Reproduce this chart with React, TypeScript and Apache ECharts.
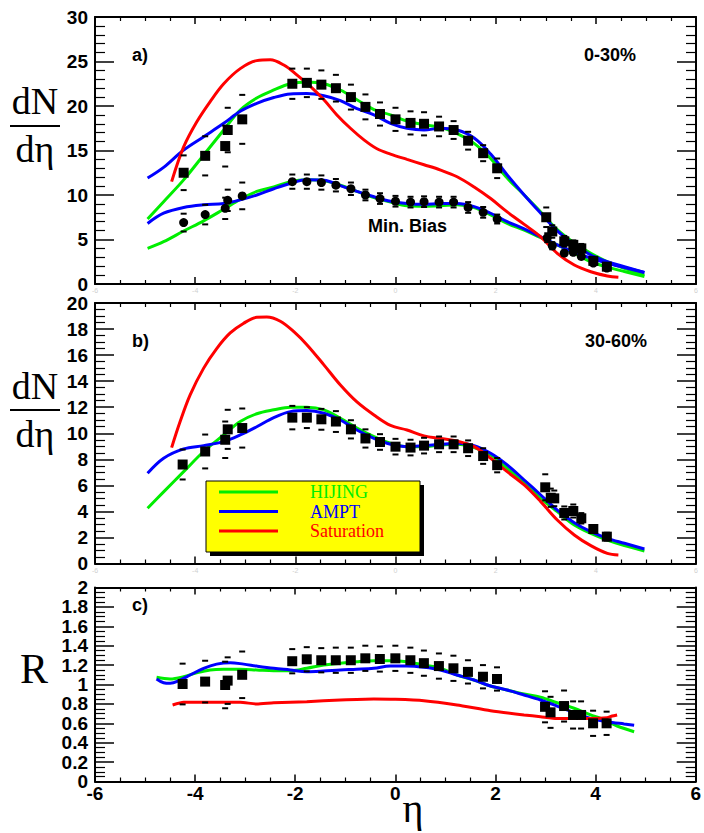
import React, { useEffect, useRef } from "react";
import * as echarts from "echarts";

// ---------- data ----------
const etaModel = [-4.95, -4.63, -4.23, -3.83, -3.43, -3.1, -2.77, -2.43, -2.1, -1.77, -1.43, -1.1, -0.77, -0.43, -0.1, 0.23, 0.57, 0.9, 1.23, 1.57, 1.9, 2.23, 2.57, 2.9, 3.23, 3.57, 3.9, 4.23, 4.57, 4.97];

// panel a (0-30% and Min. Bias)
const aHijingCentral = [7.3, 9.25, 11.7, 14.5, 17.3, 19.55, 20.9, 21.8, 22.5, 22.7, 22.5, 21.8, 20.7, 19.6, 19.0, 18.3, 17.9, 17.6, 16.9, 15.8, 14.1, 11.9, 10.0, 8.1, 6.1, 4.6, 3.45, 2.5, 1.76, 1.0];
const aAmptCentral = [11.9, 13.1, 15.05, 16.55, 18.05, 19.4, 20.3, 20.95, 21.35, 21.4, 21.15, 20.6, 19.7, 19.0, 18.05, 17.5, 17.3, 17.5, 17.3, 16.4, 14.6, 12.25, 10.0, 7.95, 5.96, 4.4, 3.26, 2.5, 1.95, 1.3];
const aHijingMinBias = [4.0, 4.75, 5.95, 7.1, 8.4, 9.5, 10.4, 10.9, 11.5, 11.7, 11.6, 11.1, 10.4, 9.7, 9.2, 8.8, 8.75, 8.8, 8.9, 8.6, 7.75, 6.8, 6.05, 5.2, 4.4, 3.45, 2.5, 1.9, 1.4, 0.85];
const aAmptMinBias = [6.8, 7.95, 8.6, 8.9, 9.05, 9.45, 10.0, 10.7, 11.3, 11.7, 11.65, 11.05, 10.4, 9.8, 9.3, 9.05, 8.95, 9.05, 9.05, 8.7, 7.95, 7.0, 6.2, 5.3, 4.4, 3.56, 2.9, 2.33, 1.85, 1.3];
const aSatEta = [-4.47, -4.23, -3.97, -3.7, -3.43, -3.1, -2.77, -2.5, -2.23, -1.97, -1.7, -1.43, -1.17, -0.9, -0.63, -0.37, -0.1, 0.23, 0.57, 0.9, 1.23, 1.57, 1.9, 2.23, 2.57, 2.9, 3.23, 3.57, 3.9, 4.23, 4.45];
const aSatCentral = [11.5, 15.4, 18.2, 20.5, 22.5, 24.2, 25.1, 25.2, 24.6, 23.5, 22.2, 20.7, 19.0, 17.5, 16.2, 15.2, 14.6, 14.0, 13.4, 12.8, 12.05, 10.9, 9.6, 8.1, 6.7, 5.3, 3.45, 2.13, 1.38, 0.9, 0.75];

const aSqEta = [-4.23, -3.8, -3.4, -3.35, -3.06, -2.06, -1.77, -1.48, -1.19, -0.89, -0.6, -0.31, 0.0, 0.3, 0.57, 0.87, 1.16, 1.45, 1.75, 2.03, 3.01, 3.13, 3.37, 3.55, 3.71, 3.95, 4.22];
const aSqVal = [12.5, 14.4, 15.5, 17.3, 18.5, 22.5, 22.6, 22.4, 22.0, 21.0, 19.9, 19.1, 18.5, 18.1, 18.0, 17.7, 17.3, 16.1, 14.7, 13.0, 7.5, 5.9, 4.8, 4.4, 4.0, 2.6, 1.95];
const aSqErr = [1.95, 2.2, 2.3, 2.5, 2.75, 1.7, 1.6, 1.6, 1.5, 1.4, 1.4, 1.3, 1.3, 1.3, 1.3, 1.1, 1.0, 1.0, 0.9, 1.1, 1.1, 0.7, 0.6, 0.5, 0.5, 0.4, 0.3];
const aCiEta = [-4.23, -3.8, -3.4, -3.35, -3.06, -2.06, -1.77, -1.48, -1.19, -0.89, -0.6, -0.31, 0.0, 0.3, 0.57, 0.87, 1.16, 1.45, 1.75, 2.03, 3.03, 3.13, 3.37, 3.55, 3.71, 3.95, 4.22];
const aCiVal = [6.9, 7.8, 8.5, 9.4, 9.9, 11.5, 11.5, 11.4, 11.1, 10.7, 10.0, 9.6, 9.3, 9.2, 9.25, 9.2, 9.2, 8.6, 8.05, 7.3, 5.2, 4.3, 3.48, 3.56, 3.1, 2.35, 1.8];
const aCiErr = [1.0, 1.1, 1.2, 1.2, 1.5, 0.8, 0.8, 0.8, 0.7, 0.7, 0.6, 0.6, 0.6, 0.6, 0.6, 0.6, 0.6, 0.6, 0.6, 0.5, 0.5, 0.4, 0.3, 0.3, 0.3, 0.2, 0.2];

// panel b (30-60%)
const bHijing = [4.24, 5.5, 7.05, 8.6, 9.87, 10.9, 11.5, 11.8, 12.0, 12.0, 11.8, 11.15, 10.4, 9.74, 9.23, 8.97, 8.97, 9.1, 9.15, 8.9, 8.33, 7.3, 6.16, 5.0, 3.98, 2.96, 2.32, 1.8, 1.37, 0.96];
const bAmpt = [6.93, 8.08, 8.8, 9.05, 9.36, 9.87, 10.5, 11.2, 11.66, 11.74, 11.54, 11.02, 10.25, 9.6, 9.15, 8.97, 9.05, 9.15, 9.23, 9.05, 8.46, 7.57, 6.41, 5.26, 4.1, 3.13, 2.44, 1.93, 1.55, 1.11];
const bSatEta = [-4.47, -4.3, -4.1, -3.83, -3.57, -3.3, -3.03, -2.77, -2.57, -2.3, -2.03, -1.77, -1.43, -1.1, -0.77, -0.43, -0.1, 0.23, 0.57, 0.9, 1.23, 1.57, 1.9, 2.23, 2.57, 2.9, 3.23, 3.57, 3.9, 4.23, 4.45];
const bSat = [8.9, 10.9, 12.95, 15.0, 16.5, 17.7, 18.45, 18.9, 18.93, 18.6, 17.8, 16.8, 15.25, 13.7, 12.4, 11.4, 10.6, 10.25, 9.8, 9.6, 9.4, 8.97, 8.08, 7.05, 6.03, 4.75, 3.34, 2.19, 1.37, 0.78, 0.65];
const bSqEta = [-4.25, -3.8, -3.4, -3.35, -3.06, -2.06, -1.77, -1.48, -1.19, -0.89, -0.6, -0.31, 0.0, 0.3, 0.57, 0.87, 1.16, 1.45, 1.75, 2.03, 2.99, 3.1, 3.17, 3.37, 3.55, 3.71, 3.95, 4.22];
const bSqVal = [7.6, 8.6, 9.5, 10.3, 10.4, 11.2, 11.2, 11.07, 10.9, 10.3, 9.6, 9.33, 8.97, 8.9, 9.05, 9.15, 9.15, 8.85, 8.25, 7.55, 5.85, 5.05, 5.0, 3.88, 4.03, 3.47, 2.65, 2.06];
const bSqErr = [1.15, 1.3, 1.4, 1.5, 1.5, 0.9, 0.8, 0.8, 0.8, 0.7, 0.7, 0.6, 0.6, 0.6, 0.6, 0.6, 0.6, 0.6, 0.6, 0.55, 1.0, 0.7, 0.6, 0.5, 0.5, 0.4, 0.3, 0.3];

// panel c (ratio R)
const cHijingEta = [-4.77, -4.5, -4.23, -3.97, -3.7, -3.43, -3.1, -2.77, -2.43, -2.1, -1.77, -1.43, -1.1, -0.77, -0.43, -0.1, 0.23, 0.57, 0.9, 1.23, 1.57, 1.9, 2.23, 2.57, 2.9, 3.23, 3.57, 3.9, 4.1, 4.43, 4.77];
const cHijing = [1.074, 1.057, 1.08, 1.12, 1.15, 1.157, 1.157, 1.15, 1.142, 1.142, 1.167, 1.2, 1.218, 1.235, 1.245, 1.245, 1.235, 1.2, 1.167, 1.098, 1.046, 0.985, 0.943, 0.902, 0.868, 0.812, 0.755, 0.686, 0.65, 0.572, 0.513];
const cAmptEta = [-4.77, -4.63, -4.5, -4.3, -4.1, -3.83, -3.57, -3.3, -3.03, -2.77, -2.43, -2.1, -1.77, -1.43, -1.1, -0.77, -0.43, -0.1, 0.23, 0.57, 0.9, 1.23, 1.57, 1.9, 2.23, 2.57, 2.9, 3.23, 3.57, 3.9, 4.23, 4.57, 4.77];
const cAmpt = [1.057, 1.018, 1.012, 1.046, 1.098, 1.167, 1.21, 1.225, 1.21, 1.19, 1.167, 1.15, 1.132, 1.139, 1.15, 1.157, 1.167, 1.19, 1.19, 1.177, 1.15, 1.098, 1.046, 0.985, 0.943, 0.892, 0.84, 0.778, 0.71, 0.65, 0.617, 0.593, 0.58];
const cSatEta = [-4.45, -4.23, -3.77, -3.1, -2.77, -2.43, -1.77, -1.1, -0.43, 0.0, 0.57, 1.23, 1.9, 2.57, 2.9, 3.23, 3.57, 3.9, 4.23, 4.33, 4.43];
const cSat = [0.789, 0.816, 0.816, 0.816, 0.8, 0.812, 0.823, 0.84, 0.85, 0.847, 0.833, 0.789, 0.73, 0.686, 0.668, 0.65, 0.65, 0.65, 0.658, 0.675, 0.686];
const cSqEta = [-4.25, -3.8, -3.4, -3.35, -3.06, -2.06, -1.77, -1.48, -1.19, -0.89, -0.6, -0.31, 0.0, 0.3, 0.57, 0.87, 1.16, 1.45, 1.75, 2.03, 2.99, 3.1, 3.37, 3.55, 3.71, 3.95, 4.22];
const cSqVal = [1.005, 1.03, 0.995, 1.04, 1.1, 1.24, 1.26, 1.25, 1.25, 1.25, 1.27, 1.263, 1.27, 1.25, 1.22, 1.19, 1.167, 1.13, 1.08, 1.057, 0.77, 0.713, 0.778, 0.686, 0.686, 0.6, 0.6];
const cSqErr = [0.21, 0.215, 0.24, 0.24, 0.24, 0.125, 0.125, 0.125, 0.13, 0.13, 0.13, 0.13, 0.13, 0.13, 0.13, 0.13, 0.13, 0.12, 0.12, 0.12, 0.16, 0.16, 0.16, 0.14, 0.14, 0.13, 0.12];

const legendNames = ["HIJING", "AMPT", "Saturation"];

// ---------- styling ----------
const GREEN = "#00ee00";
const BLUE = "#0000ff";
const RED = "#ff0000";
const SANS = "'Liberation Sans', Arial, sans-serif";
const SERIF = "'Liberation Serif', 'Times New Roman', serif";

const GRIDS = [
  { left: 95, top: 17, width: 601, height: 267 },
  { left: 95, top: 303, width: 601, height: 260.5 },
  { left: 95, top: 587.5, width: 601, height: 194 },
];
const Y_RANGES = [
  { min: 0, max: 30, interval: 5, minor: 5 },
  { min: 0, max: 20, interval: 2, minor: 4 },
  { min: 0, max: 2, interval: 0.2, minor: 4 },
];

const zip = (xs: number[], ys: number[]) => xs.map((x, i) => [x, ys[i]]);
const zip3 = (xs: number[], ys: number[], es: number[]) => xs.map((x, i) => [x, ys[i], es[i]]);

function curve(k: number, data: number[][], color: string, smooth = 0.35) {
  return {
    type: "line",
    xAxisIndex: 2 * k,
    yAxisIndex: 2 * k,
    data,
    smooth,
    showSymbol: false,
    symbol: "none",
    lineStyle: { color, width: 3 },
    z: 3,
    silent: true,
  };
}

function markers(k: number, data: number[][], symbol: string, size: number) {
  return {
    type: "scatter",
    xAxisIndex: 2 * k,
    yAxisIndex: 2 * k,
    data,
    symbol,
    symbolSize: size,
    itemStyle: { color: "#000", opacity: 1 },
    z: 5,
    silent: true,
  };
}

function errDashes(k: number, data: number[][]) {
  return {
    type: "custom",
    xAxisIndex: 2 * k,
    yAxisIndex: 2 * k,
    data,
    encode: { x: 0, y: 1 },
    z: 4,
    silent: true,
    renderItem: (_p: any, api: any) => {
      const x = api.value(0);
      const y = api.value(1);
      const e = api.value(2);
      const hi = api.coord([x, y + e]);
      const lo = api.coord([x, y - e]);
      return {
        type: "group",
        children: [
          { type: "rect", shape: { x: hi[0] - 3, y: hi[1] - 1, width: 6, height: 2 }, style: { fill: "#000" } },
          { type: "rect", shape: { x: lo[0] - 3, y: lo[1] - 1, width: 6, height: 2 }, style: { fill: "#000" } },
        ],
      };
    },
  };
}

export default function App() {
  const ref = useRef<HTMLDivElement>(null);

  useEffect(() => {
    if (!ref.current) return;
    const chart = echarts.init(ref.current, null, { renderer: "svg" });

    const xAxes: any[] = [];
    const yAxes: any[] = [];
    GRIDS.forEach((_, k) => {
      const last = k === 2;
      ["bottom", "top"].forEach((pos) => {
        xAxes.push({
          type: "value",
          gridIndex: k,
          position: pos,
          min: -6,
          max: 6,
          interval: 2,
          axisLine: { show: true, onZero: false, lineStyle: { color: "#000", width: 2 } },
          axisTick: { show: true, inside: true, length: 7, lineStyle: { color: "#000", width: 1.5 } },
          minorTick: { show: true, splitNumber: 4, length: 4, lineStyle: { color: "#000", width: 1.2 } },
          splitLine: { show: false },
          axisLabel:
            pos === "bottom"
              ? last
                ? { show: true, margin: 2, color: "#000", fontFamily: SANS, fontWeight: "bold", fontSize: 19 }
                : { show: true, margin: 3, color: "#cfcfcf", fontFamily: SANS, fontSize: 7 }
              : { show: false },
        });
      });
      const r = Y_RANGES[k];
      ["left", "right"].forEach((pos) => {
        yAxes.push({
          type: "value",
          gridIndex: k,
          position: pos,
          min: r.min,
          max: r.max,
          interval: r.interval,
          axisLine: { show: true, onZero: false, lineStyle: { color: "#000", width: 2 } },
          axisTick: { show: true, inside: true, length: 19, lineStyle: { color: "#000", width: 1.5 } },
          minorTick: { show: true, splitNumber: r.minor, length: 10, lineStyle: { color: "#000", width: 1.2 } },
          splitLine: { show: false },
          axisLabel:
            pos === "left"
              ? { show: true, margin: 7, color: "#000", fontFamily: SANS, fontWeight: "bold", fontSize: 19 }
              : { show: false },
        });
      });
    });

    const series: any[] = [
      // panel a
      curve(0, zip(etaModel, aHijingCentral), GREEN),
      curve(0, zip(etaModel, aHijingMinBias), GREEN),
      curve(0, zip(etaModel, aAmptCentral), BLUE),
      curve(0, zip(etaModel, aAmptMinBias), BLUE),
      curve(0, zip(aSatEta, aSatCentral), RED),
      errDashes(0, zip3(aSqEta, aSqVal, aSqErr)),
      errDashes(0, zip3(aCiEta, aCiVal, aCiErr)),
      markers(0, zip(aSqEta, aSqVal), "rect", 10),
      markers(0, zip(aCiEta, aCiVal), "circle", 9),
      // panel b
      curve(1, zip(etaModel, bHijing), GREEN),
      curve(1, zip(etaModel, bAmpt), BLUE),
      curve(1, zip(bSatEta, bSat), RED),
      errDashes(1, zip3(bSqEta, bSqVal, bSqErr)),
      markers(1, zip(bSqEta, bSqVal), "rect", 10),
      // panel c
      curve(2, zip(cHijingEta, cHijing), GREEN),
      curve(2, zip(cAmptEta, cAmpt), BLUE),
      curve(2, zip(cSatEta, cSat), RED, 0.2),
      errDashes(2, zip3(cSqEta, cSqVal, cSqErr)),
      markers(2, zip(cSqEta, cSqVal), "rect", 10),
    ];

    const bold = (size: number) => `bold ${size}px ${SANS}`;
    const serif = (size: number) => `${size}px ${SERIF}`;
    const txt = (text: string, x: number, y: number, font: string, fill = "#000", align = "left", lineHeight?: number) => ({
      type: "text",
      x,
      y,
      z: 20,
      style: { text, font, fill, align, verticalAlign: "middle", ...(lineHeight ? { lineHeight } : {}) },
    });

    const legendColors = [GREEN, BLUE, RED];
    const legendY = [492, 511.5, 531];

    const graphic: any[] = [
      // y titles
      txt("dN", 35, 101, serif(38), "#000", "center"),
      { type: "rect", shape: { x: 10, y: 125, width: 50, height: 2 }, style: { fill: "#000" } },
      txt("dη", 35, 149, serif(38), "#000", "center"),
      txt("dN", 35, 386, serif(38), "#000", "center"),
      { type: "rect", shape: { x: 10, y: 409, width: 50, height: 2 }, style: { fill: "#000" } },
      txt("dη", 35, 434, serif(38), "#000", "center"),
      txt("R", 34, 669, serif(42), "#000", "center"),
      txt("η", 413, 808, serif(40), "#000", "center", 40),
      // panel annotations
      txt("a)", 132, 55, bold(18)),
      txt("0-30%", 584, 55, bold(18)),
      txt("Min. Bias", 368, 226, bold(18)),
      txt("b)", 132, 341, bold(18)),
      txt("30-60%", 585, 341, bold(18)),
      txt("c)", 132, 605, bold(18)),
      // legend
      { type: "rect", z: 18, shape: { x: 210, y: 485, width: 214, height: 71 }, style: { fill: "#000" } },
      { type: "rect", z: 19, shape: { x: 206, y: 481, width: 214, height: 71 }, style: { fill: "#ffff00", stroke: "#000", lineWidth: 1 } },
      ...legendNames.flatMap((name, i) => [
        { type: "line", z: 20, shape: { x1: 219, y1: legendY[i], x2: 278, y2: legendY[i] }, style: { stroke: legendColors[i], lineWidth: 3 } },
        txt(name, 310, legendY[i], serif(18), legendColors[i], "left", 18),
      ]),
    ];

    chart.setOption({
      animation: false,
      backgroundColor: "#fff",
      grid: GRIDS.map((g) => ({ ...g, containLabel: false })),
      xAxis: xAxes,
      yAxis: yAxes,
      series,
      graphic,
    });

    return () => chart.dispose();
  }, []);

  return (
    <div
      ref={ref}
      style={{ position: "absolute", left: 0, top: 0, width: 704, height: 833, background: "#fff" }}
    />
  );
}
